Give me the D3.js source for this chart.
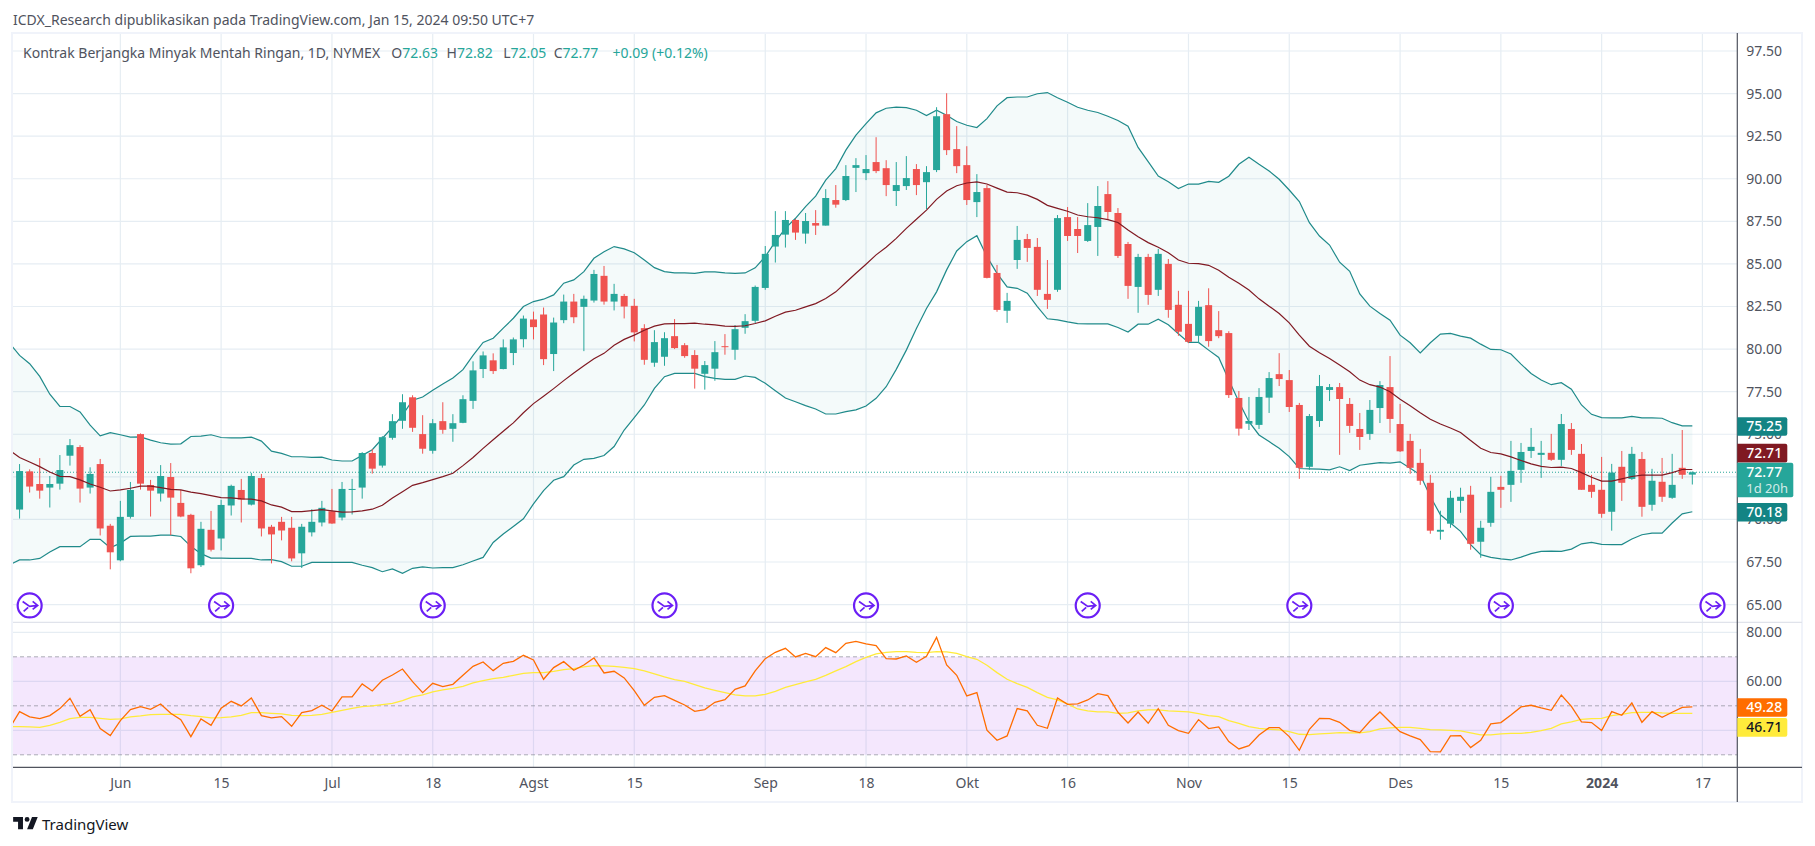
<!DOCTYPE html>
<html>
<head>
<meta charset="utf-8">
<script src="https://cdn.jsdelivr.net/npm/d3@7/dist/d3.min.js"></script>
<style>
    html, body { margin: 0; padding: 0; background: #fff; }
    svg { display: block; }
    text { font-family: "Noto Sans", sans-serif; }
</style>
</head>
<body>
<div id="chart"></div>
<script>
// daily candles, first slot sits off the left edge of the pane so only the lines use it
var opens = [null,70.58,72.82,72.08,71.87,72.10,73.74,74.25,71.87,73.25,69.63,
    67.60,70.15,75.01,72.02,71.52,72.49,70.97,70.27,67.31,69.39,
    68.88,70.82,71.73,70.87,72.43,69.57,69.86,69.51,68.01,69.24,
    69.82,70.48,70.11,71.75,71.87,73.90,73.16,74.79,75.79,77.17,
    75.01,74.03,75.77,75.32,75.67,76.96,78.83,79.34,78.83,79.77,
    80.58,81.74,82.03,79.71,81.70,82.79,82.48,82.85,84.30,82.79,
    83.12,82.54,81.23,79.20,79.55,80.76,80.23,79.65,78.55,78.85,
    80.17,79.96,81.25,81.66,83.59,86.02,86.72,87.58,86.78,87.40,
    87.25,88.75,88.75,90.64,90.33,90.98,90.62,89.28,89.57,90.57,
    89.80,90.51,93.79,91.74,90.80,88.63,89.45,84.47,82.25,85.23,
    86.46,86.00,83.24,83.48,87.75,87.05,86.35,87.17,89.10,87.99,
    86.17,83.65,85.41,83.48,85.00,82.60,81.48,80.78,82.58,81.11,
    80.94,77.13,75.62,75.55,77.15,78.53,78.18,76.72,73.09,75.78,
    77.60,77.77,76.78,75.31,75.02,76.54,77.77,75.60,74.61,73.32,
    72.15,69.28,69.75,71.09,71.45,68.69,69.80,71.91,72.03,72.91,
    74.02,73.79,73.91,73.50,75.31,73.85,72.03,71.74,70.45,73.09,
    72.38,73.55,70.86,72.21,71.27,73.03,72.63];

var highs = [null,73.25,72.94,73.60,72.55,73.78,74.72,74.36,73.06,73.55,69.74,
    71.09,72.20,75.05,72.32,73.19,73.31,71.73,70.33,69.86,70.50,
    71.15,72.04,72.38,72.73,72.67,69.68,70.15,70.15,69.74,70.60,
    71.09,71.79,72.20,72.38,73.95,74.13,74.89,76.18,77.35,77.29,
    76.12,75.89,76.88,76.18,77.29,79.28,79.86,79.75,80.57,80.68,
    81.97,82.20,82.44,81.85,83.20,83.24,83.14,84.65,84.88,83.83,
    83.24,82.95,81.46,81.11,80.99,81.76,80.35,79.94,79.30,80.47,
    80.88,81.41,82.05,83.73,86.05,88.10,88.10,87.64,87.99,88.16,
    89.39,89.63,90.80,91.21,91.39,92.44,91.09,90.98,91.33,90.86,
    90.74,94.20,95.02,93.09,91.91,90.27,89.63,84.94,83.30,87.23,
    86.76,86.52,85.23,87.87,88.34,87.75,88.57,89.57,89.86,88.28,
    86.29,85.59,85.59,85.88,85.29,83.42,83.42,82.83,83.57,82.23,
    81.05,77.54,77.19,77.71,78.65,79.76,78.77,76.84,76.19,78.48,
    77.95,78.01,77.13,76.25,77.01,78.12,79.59,76.78,75.02,74.14,
    72.62,70.51,71.68,71.86,71.97,69.92,72.50,72.56,74.61,74.49,
    75.37,74.61,75.02,76.19,75.66,74.43,72.62,73.67,73.26,74.02,
    74.26,73.96,72.97,73.61,73.85,75.25,72.82];

var lows = [null,70.05,71.58,71.22,70.70,71.75,73.16,70.99,71.52,69.06,67.07,
    67.54,70.05,71.75,70.17,71.05,69.08,70.13,66.84,67.21,68.12,
    68.18,70.23,69.82,70.82,69.00,67.42,68.77,67.54,67.15,69.00,
    69.59,69.74,69.94,70.29,71.22,72.69,73.04,74.68,75.32,75.14,
    73.86,73.86,75.03,74.56,75.65,76.49,78.30,78.54,78.81,79.06,
    80.10,80.57,79.06,78.71,81.52,81.52,79.88,82.73,82.61,82.27,
    81.80,80.45,79.08,78.96,79.02,80.00,79.49,77.68,77.62,78.14,
    79.67,79.37,80.90,81.52,83.48,85.08,85.96,86.41,86.19,86.70,
    87.25,88.30,88.69,89.22,89.92,90.33,88.98,88.40,89.34,89.04,
    88.22,90.39,91.39,90.33,88.46,87.75,84.15,82.19,81.54,84.71,
    85.12,83.12,82.36,83.36,86.35,85.64,86.29,85.47,87.58,85.35,
    82.95,82.13,82.60,83.12,81.84,80.78,80.35,80.35,80.14,80.64,
    77.13,74.92,75.25,75.31,76.25,77.83,76.31,72.38,72.91,75.43,
    76.95,73.79,75.08,74.08,74.67,75.66,75.08,73.96,72.68,72.03,
    69.16,68.81,69.51,70.39,68.22,67.75,69.57,70.68,71.03,72.15,
    73.61,72.44,73.44,73.14,73.79,71.74,71.27,70.10,69.34,71.09,
    72.32,70.16,70.51,71.03,71.21,72.38,72.05];

var closes = [null,72.84,71.93,71.69,72.08,72.90,74.36,71.81,72.67,69.47,68.07,
    70.15,71.73,72.10,71.69,72.55,71.28,70.17,67.13,69.45,68.22,
    70.85,71.97,71.17,72.55,69.47,69.12,69.35,67.71,69.57,69.86,
    70.68,69.76,71.79,71.79,73.90,72.98,74.83,75.77,76.88,75.38,
    74.15,75.65,75.26,75.65,77.06,78.75,79.63,78.71,80.10,80.57,
    81.79,81.29,79.41,81.56,82.79,81.87,82.95,84.41,82.79,83.24,
    82.50,80.98,79.37,80.41,80.64,80.06,79.59,78.85,79.06,79.82,
    80.14,81.17,81.64,83.65,85.59,86.70,87.58,86.84,87.52,87.25,
    88.87,88.48,90.16,90.80,90.57,90.45,89.63,89.63,90.04,89.63,
    90.39,93.67,91.68,90.74,88.75,89.22,84.18,82.30,82.83,86.41,
    85.94,83.48,82.89,87.69,86.64,86.64,87.28,88.40,88.05,85.47,
    83.71,85.41,83.18,85.59,82.30,81.02,80.43,82.48,80.47,80.76,
    77.30,75.33,75.78,77.19,78.30,78.24,76.60,73.03,76.07,77.83,
    77.77,77.07,75.49,74.84,76.43,77.89,75.90,74.00,73.03,72.27,
    69.34,69.39,71.27,71.33,68.57,69.51,71.62,71.74,72.85,73.96,
    74.26,73.91,73.50,75.60,74.08,71.74,71.62,70.33,72.75,72.15,
    73.85,70.74,72.27,71.33,72.03,72.62,72.77];

// bollinger bands
var bandUpper = [80.35,79.63,79.14,78.40,77.35,76.63,76.63,76.31,75.53,74.91,75.09,
    74.97,74.83,74.85,74.66,74.50,74.42,74.44,74.87,74.89,74.97,
    74.81,74.79,74.79,74.83,74.60,74.01,73.88,73.68,73.68,73.64,
    73.66,73.49,73.43,73.43,73.76,74.09,74.75,75.42,76.12,77.00,
    77.19,77.58,77.95,78.30,78.79,79.63,80.39,80.64,81.23,81.81,
    82.50,82.79,82.93,83.18,83.87,84.06,84.55,85.33,85.72,86.02,
    85.88,85.66,85.23,84.78,84.55,84.47,84.47,84.45,84.53,84.53,
    84.47,84.45,84.47,84.77,85.43,86.31,87.09,87.68,88.36,88.98,
    89.92,90.60,91.68,92.56,93.24,93.87,94.14,94.20,94.18,94.02,
    93.71,94.02,93.73,93.36,93.14,93.01,93.53,94.28,94.76,94.80,
    94.80,94.99,95.06,94.76,94.49,94.20,94.02,93.89,93.67,93.42,
    93.09,91.84,91.00,90.16,89.82,89.43,89.69,89.69,89.85,89.79,
    90.15,90.85,91.26,90.85,90.46,89.97,89.34,88.66,87.42,86.64,
    86.11,85.10,84.57,83.24,82.52,82.09,81.70,80.82,80.37,79.78,
    80.37,80.88,80.92,80.76,80.64,80.29,79.98,79.96,79.71,79.12,
    78.57,78.18,77.91,78.03,77.64,76.72,76.17,75.98,75.96,75.96,
    76.05,75.96,75.96,75.94,75.68,75.49,75.49];

var bandBasis = [74.07,73.64,73.37,73.10,72.78,72.53,72.51,72.32,72.08,71.89,71.67,
    71.73,71.83,71.95,71.95,71.87,71.77,71.73,71.60,71.52,71.40,
    71.28,71.26,71.21,71.19,71.09,70.85,70.72,70.46,70.46,70.52,
    70.58,70.50,70.43,70.44,70.50,70.60,70.83,71.26,71.63,72.00,
    72.16,72.34,72.51,72.71,73.16,73.64,74.17,74.68,75.18,75.67,
    76.26,76.80,77.23,77.68,78.15,78.60,79.02,79.43,79.75,80.23,
    80.57,80.82,81.11,81.35,81.48,81.50,81.50,81.52,81.46,81.42,
    81.35,81.33,81.37,81.50,81.66,81.93,82.17,82.28,82.48,82.67,
    82.97,83.36,83.91,84.45,84.98,85.53,85.98,86.50,87.09,87.62,
    88.16,88.79,89.28,89.59,89.75,89.82,89.69,89.45,89.22,89.18,
    89.04,88.79,88.44,88.26,88.09,87.87,87.77,87.71,87.60,87.43,
    86.99,86.60,86.25,85.98,85.66,85.23,85.04,85.02,84.92,84.63,
    84.22,83.87,83.47,82.95,82.52,82.09,81.54,80.82,80.17,79.78,
    79.45,79.06,78.67,78.18,77.91,77.77,77.50,77.05,76.68,76.27,
    75.88,75.60,75.37,75.10,74.63,74.18,73.93,73.85,73.67,73.46,
    73.26,73.11,73.05,73.07,72.99,72.75,72.48,72.25,72.25,72.38,
    72.52,72.60,72.60,72.60,72.75,72.93,72.93];

var bandLower = [67.34,67.62,67.62,67.71,68.09,68.40,68.40,68.40,68.83,68.83,68.34,
    68.61,69.00,69.02,69.02,69.08,69.08,69.00,68.42,67.99,67.73,
    67.73,67.71,67.71,67.71,67.62,67.64,67.52,67.25,67.25,67.48,
    67.48,67.48,67.48,67.48,67.31,67.17,66.93,67.09,66.84,67.13,
    67.21,67.15,67.17,67.17,67.34,67.56,67.77,68.65,69.14,69.59,
    70.04,70.91,71.69,72.30,72.51,73.19,73.53,73.58,73.75,74.28,
    75.25,75.98,76.72,77.69,78.38,78.57,78.57,78.57,78.38,78.28,
    78.22,78.22,78.42,78.34,77.99,77.56,77.13,76.91,76.68,76.48,
    76.19,76.19,76.33,76.43,76.66,77.11,77.79,78.81,79.94,81.21,
    82.38,83.36,84.65,85.76,86.31,86.66,85.43,84.45,83.65,83.57,
    83.28,82.50,81.78,81.72,81.60,81.50,81.48,81.48,81.48,81.27,
    81.00,81.46,81.46,81.76,81.43,80.90,80.39,80.39,79.94,79.51,
    78.18,76.91,75.74,74.96,74.57,74.18,73.69,72.99,72.97,72.95,
    72.91,73.09,72.87,73.18,73.26,73.34,73.30,73.38,73.01,72.62,
    71.35,70.27,69.79,69.30,68.52,67.93,67.77,67.68,67.62,67.79,
    67.99,68.12,68.14,68.12,68.26,68.57,68.65,68.54,68.52,68.52,
    68.85,69.10,69.20,69.20,69.79,70.33,70.45];

// rsi pane
var rsiValues = [40.82,47.62,45.45,44.77,45.99,48.85,53.06,45.72,48.44,40.69,37.83,
    43.95,48.44,49.66,48.58,50.75,46.94,44.36,37.42,44.63,42.05,
    48.98,51.84,49.94,53.20,45.99,45.04,45.58,41.64,47.22,48.03,
    50.21,47.90,53.61,53.61,58.91,56.06,60.41,62.58,65.03,59.86,
    55.38,59.18,57.82,58.78,62.45,66.12,67.89,64.35,67.34,68.16,
    70.61,68.70,60.82,65.58,68.02,64.49,66.66,69.52,63.40,64.08,
    61.36,56.19,50.21,53.47,54.15,52.25,50.34,47.76,48.44,51.43,
    52.52,56.74,58.10,64.22,69.25,71.83,73.46,69.93,71.42,70.06,
    73.74,71.70,75.50,76.32,75.23,74.55,69.25,69.11,70.34,67.75,
    70.20,77.95,66.66,62.45,54.02,55.38,40.01,35.93,37.70,48.85,
    47.90,42.05,40.82,53.20,50.62,50.75,52.38,54.97,54.15,47.35,
    43.00,47.49,42.86,48.85,42.05,39.87,38.78,44.36,40.69,41.37,
    35.38,32.39,33.75,38.10,41.10,41.10,37.42,31.85,40.42,44.90,
    44.77,43.27,40.01,39.06,43.68,47.49,43.41,39.46,37.70,36.20,
    31.30,31.17,37.70,37.83,32.94,35.93,42.59,43.14,46.26,49.53,
    50.21,49.12,48.17,54.42,49.80,43.41,43.14,39.87,47.62,46.13,
    51.16,43.27,47.62,45.31,47.35,49.39,49.53];

var rsiMa = [41.50,41.50,41.37,41.23,42.05,43.27,44.77,45.31,45.31,44.90,44.50,
    44.63,45.45,45.86,46.40,46.54,46.54,46.54,45.99,45.58,45.04,
    45.18,45.45,46.13,47.22,47.22,46.94,46.67,46.13,45.99,46.13,
    46.54,47.35,48.17,48.98,49.66,49.94,50.48,51.02,52.11,53.61,
    54.42,55.65,56.46,57.14,57.96,59.32,60.27,61.09,61.63,62.45,
    63.26,63.54,63.54,64.08,64.76,65.17,65.85,66.39,66.26,66.12,
    65.71,65.17,64.22,62.99,61.77,60.68,60.00,58.64,57.28,56.33,
    55.38,54.42,54.02,54.02,54.70,55.92,57.55,58.64,59.73,60.82,
    62.45,64.22,65.98,68.02,69.79,71.15,71.83,72.10,72.10,71.83,
    71.70,72.10,71.97,71.42,70.06,68.98,66.53,63.54,60.82,59.05,
    57.55,55.38,53.47,52.38,50.75,48.71,47.90,47.49,47.49,46.94,
    47.08,47.90,48.30,48.30,47.90,47.76,47.49,46.81,45.99,45.58,
    43.95,42.86,41.50,40.82,40.42,40.14,39.46,38.38,38.24,38.51,
    38.78,39.06,38.92,38.92,39.46,40.55,40.96,41.23,41.23,40.82,
    40.28,40.14,40.01,39.74,38.92,38.10,38.10,38.51,38.78,38.78,
    39.19,39.87,40.82,42.59,43.41,44.50,44.77,44.90,45.99,46.54,
    47.22,47.35,47.35,47.08,46.94,46.94,46.94];

// axis ticks, 72.50 and 40.00 have a grid line but their labels sit under the value boxes
var priceTicks = [65,67.5,70,72.5,75,77.5,80,82.5,85,87.5,90,92.5,95,97.5];
var priceTickLabels = [65,67.5,70,75,77.5,80,82.5,85,87.5,90,92.5,95,97.5];
var rsiTicks = [40,60,80];
var rsiTickLabels = [60,80];
var rsiGuides = [30,50,70];
var timeBars = [11,21,32,42,52,62,75,85,95,105,117,127,138,148,158,168];
var timeLabels = ['Jun','15','Jul','18','Agst','15','Sep','18','Okt','16','Nov','15','Des','15','2024','17'];

// dividend style markers along the bottom of the price pane
var eventBars = [2,21,42,65,85,107,128,148,169];
var eventLevel = 64.95;

var lastPrice = 72.77;

// label text, then the level each label got pushed to so they don't collide
var priceLabels = [
    { text: '75.25', level: 75.46, fill: '#138484', color: '#fff' },
    { text: '72.71', level: 73.89, fill: '#801922', color: '#fff' },
    { text: '70.18', level: 70.42, fill: '#138484', color: '#fff' }
];
var rsiLabels = [
    { text: '49.28', level: 49.30, fill: '#ff6d00', color: '#fff' },
    { text: '46.71', level: 41.20, fill: '#ffeb3b', color: '#131722' }
];

// text, colour, gap before it
var legendParts = [
    ['Kontrak Berjangka Minyak Mentah Ringan, 1D, NYMEX', '#50535e', 0],
    ['O', '#50535e', 11.5], ['72.63', '#26a69a', 0],
    ['H', '#50535e', 8.5], ['72.82', '#26a69a', 0],
    ['L', '#50535e', 10.4], ['72.05', '#26a69a', 0],
    ['C', '#50535e', 7.4], ['72.77', '#26a69a', 0],
    ['+0.09 (+0.12%)', '#26a69a', 14.2]
];

var UP = '#26a69a', DOWN = '#ef5350', GRID = '#e6edf3', AXIS = '#50535e';

// "top" is taken by window.top, so plotTop
var left = 13, right = 1737.3, plotTop = 33, paneBottom = 622.3, bottom = 767.3, frameRight = 1802, frameBottom = 802;

var svg = d3.select('#chart').append('svg').attr('width', 1815).attr('height', 846);

var x = d3.scaleLinear().domain([0, 168]).range([9.5, 1702.4]);
var yPrice = d3.scaleLinear().domain([65, 97.5]).range([604.6, 51]);
var yRsi = d3.scaleLinear().domain([40, 80]).range([730.3, 632.3]);

var defs = svg.append('defs');
defs.append('clipPath').attr('id', 'priceClip').append('rect')
    .attr('x', left).attr('y', plotTop).attr('width', right - left).attr('height', paneBottom - plotTop);
defs.append('clipPath').attr('id', 'rsiClip').append('rect')
    .attr('x', left).attr('y', paneBottom).attr('width', right - left).attr('height', bottom - paneBottom);

// header line
svg.append('text').attr('x', 13).attr('y', 25).attr('font-size', 14).attr('fill', '#50535e')
    .text('ICDX_Research dipublikasikan pada TradingView.com, Jan 15, 2024 09:50 UTC+7');

// grid
var grid = svg.append('g').attr('stroke', GRID).attr('stroke-width', 1.2);
grid.selectAll('.v').data(timeBars).enter().append('line').attr('class', 'v')
    .attr('x1', function (d) { return x(d); }).attr('x2', function (d) { return x(d); })
    .attr('y1', plotTop).attr('y2', bottom);
grid.selectAll('.p').data(priceTicks).enter().append('line').attr('class', 'p')
    .attr('x1', left).attr('x2', right)
    .attr('y1', function (d) { return yPrice(d); }).attr('y2', function (d) { return yPrice(d); });
grid.selectAll('.r').data(rsiTicks).enter().append('line').attr('class', 'r')
    .attr('x1', left).attr('x2', right)
    .attr('y1', function (d) { return yRsi(d); }).attr('y2', function (d) { return yRsi(d); });

// price pane
var pricePane = svg.append('g').attr('clip-path', 'url(#priceClip)');

var bandArea = d3.area()
    .x(function (d, i) { return x(i); })
    .y0(function (d, i) { return yPrice(bandLower[i]); })
    .y1(function (d) { return yPrice(d); });
pricePane.append('path').attr('d', bandArea(bandUpper)).attr('fill', '#26a69a').attr('fill-opacity', 0.05);

pricePane.append('line').attr('x1', left).attr('x2', right)
    .attr('y1', yPrice(lastPrice)).attr('y2', yPrice(lastPrice))
    .attr('stroke', UP).attr('stroke-width', 1).attr('stroke-dasharray', '1 2');

var priceLine = d3.line()
    .x(function (d, i) { return x(i); })
    .y(function (d) { return yPrice(d); });

[[bandUpper, '#138484'], [bandLower, '#138484']].forEach(function (s) {
    pricePane.append('path').attr('d', priceLine(s[0])).attr('fill', 'none')
        .attr('stroke', s[1]).attr('stroke-width', 1.2).attr('stroke-opacity', 0.95);
});

var bars = d3.range(opens.length).filter(function (i) { return opens[i] !== null; });
var candles = pricePane.selectAll('.candle').data(bars).enter().append('g').attr('class', 'candle');
candles.append('line')
    .attr('x1', function (i) { return x(i); }).attr('x2', function (i) { return x(i); })
    .attr('y1', function (i) { return yPrice(highs[i]); }).attr('y2', function (i) { return yPrice(lows[i]); })
    .attr('stroke', function (i) { return closes[i] >= opens[i] ? UP : DOWN; }).attr('stroke-width', 1);
candles.append('rect')
    .attr('x', function (i) { return x(i) - 3.5; }).attr('width', 7)
    .attr('y', function (i) { return yPrice(Math.max(opens[i], closes[i])); })
    .attr('height', function (i) { return Math.max(1, Math.abs(yPrice(opens[i]) - yPrice(closes[i]))); })
    .attr('fill', function (i) { return closes[i] >= opens[i] ? UP : DOWN; });

// basis goes over the candles
pricePane.append('path').attr('d', priceLine(bandBasis)).attr('fill', 'none')
    .attr('stroke', '#801922').attr('stroke-width', 1.2);

// markers
var marks = svg.append('g').selectAll('g').data(eventBars).enter().append('g')
    .attr('transform', function (d) { return 'translate(' + x(d) + ',' + yPrice(eventLevel) + ')'; })
    .attr('fill', 'none').attr('stroke', '#6b1ff5').attr('stroke-width', 1.7);
marks.append('circle').attr('r', 12).attr('fill', '#fff').attr('stroke-width', 2.2);
marks.append('path').attr('d', 'M-7,-4 L0,1 L8,0 M3,-4 L8,0 L3,4 M-6,6 L-1.5,2');

// legend
var legend = svg.append('text').attr('x', 23).attr('y', 58).attr('font-size', 14);
legendParts.forEach(function (p) {
    legend.append('tspan').attr('fill', p[1]).attr('dx', p[2]).text(p[0]);
});

// rsi pane
var rsiPane = svg.append('g').attr('clip-path', 'url(#rsiClip)');
rsiPane.append('rect').attr('x', left).attr('width', right - left)
    .attr('y', yRsi(70)).attr('height', yRsi(30) - yRsi(70))
    .attr('fill', '#9c27f0').attr('fill-opacity', 0.11);
rsiPane.selectAll('.guide').data(rsiGuides).enter().append('line').attr('class', 'guide')
    .attr('x1', left).attr('x2', right)
    .attr('y1', function (d) { return yRsi(d); }).attr('y2', function (d) { return yRsi(d); })
    .attr('stroke', '#787b86').attr('stroke-opacity', 0.6).attr('stroke-dasharray', '4 3');

var rsiLine = d3.line()
    .x(function (d, i) { return x(i); })
    .y(function (d) { return yRsi(d); });
rsiPane.append('path').attr('d', rsiLine(rsiMa)).attr('fill', 'none')
    .attr('stroke', '#ffeb3b').attr('stroke-width', 1.3);
rsiPane.append('path').attr('d', rsiLine(rsiValues)).attr('fill', 'none')
    .attr('stroke', '#ff6d00').attr('stroke-width', 1.3);

// frame and axis rules
svg.append('rect').attr('x', 12).attr('y', plotTop).attr('width', frameRight - 12).attr('height', frameBottom - plotTop)
    .attr('fill', 'none').attr('stroke', '#f0f3fa').attr('stroke-width', 2);
svg.append('line').attr('x1', left).attr('x2', frameRight).attr('y1', paneBottom).attr('y2', paneBottom)
    .attr('stroke', '#e0e3eb').attr('stroke-width', 1.2);
svg.append('line').attr('x1', left).attr('x2', frameRight).attr('y1', bottom).attr('y2', bottom)
    .attr('stroke', AXIS).attr('stroke-width', 1.2);
svg.append('line').attr('x1', right).attr('x2', right).attr('y1', plotTop).attr('y2', frameBottom)
    .attr('stroke', AXIS).attr('stroke-width', 1.2);

// axes
function styleAxis(g) {
    g.select('.domain').remove();
    g.selectAll('.tick line').remove();
    g.selectAll('text').attr('fill', AXIS).attr('font-size', 14)
        .style('font-family', '"Noto Sans", sans-serif');
}

svg.append('g').attr('transform', 'translate(' + (right + 9) + ',0)')
    .call(d3.axisRight(yPrice).tickValues(priceTickLabels).tickSize(0).tickPadding(0).tickFormat(d3.format('.2f')))
    .call(styleAxis);
svg.append('g').attr('transform', 'translate(' + (right + 9) + ',0)')
    .call(d3.axisRight(yRsi).tickValues(rsiTickLabels).tickSize(0).tickPadding(0).tickFormat(d3.format('.2f')))
    .call(styleAxis);
svg.append('g').attr('transform', 'translate(0,' + (bottom + 10.5) + ')')
    .call(d3.axisBottom(x).tickValues(timeBars).tickSize(0).tickPadding(0)
        .tickFormat(function (d, i) { return timeLabels[i]; }))
    .call(styleAxis)
    .selectAll('text').attr('font-weight', function (d, i) { return timeLabels[i] === '2024' ? 700 : 400; });

// last value labels on the price scale
function drawLabel(y, d) {
    var g = svg.append('g').attr('transform', 'translate(' + right + ',' + y + ')');
    g.append('path').attr('d', 'M0,-9.3 H48 a2,2 0 0 1 2,2 V7.3 a2,2 0 0 1 -2,2 H0 Z').attr('fill', d.fill);
    g.append('text').attr('x', 9).attr('y', 0).attr('dy', '0.35em').attr('font-size', 14)
        .attr('font-weight', 500).attr('fill', d.color).text(d.text);
}
priceLabels.forEach(function (d) { drawLabel(yPrice(d.level), d); });
rsiLabels.forEach(function (d) { drawLabel(yRsi(d.level), d); });

var priceBox = svg.append('g').attr('transform', 'translate(' + right + ',' + yPrice(lastPrice) + ')');
priceBox.append('path').attr('d', 'M0,-9.5 H54 a2,2 0 0 1 2,2 V23 a2,2 0 0 1 -2,2 H0 Z').attr('fill', UP);
priceBox.append('text').attr('x', 9).attr('dy', '0.35em').attr('font-size', 14).attr('font-weight', 500)
    .attr('fill', '#fff').text('72.77');
priceBox.append('text').attr('x', 9).attr('y', 16).attr('dy', '0.35em').attr('font-size', 13)
    .attr('fill', '#fff').attr('fill-opacity', 0.8).text('1d 20h');

// footer logo
var logo = svg.append('g').attr('transform', 'translate(11.5,812) scale(0.82)');
logo.append('path').attr('fill', '#131722')
    .attr('d', 'M14 6H2v6h6v9h6V6Zm12 15h-7l6-15h7l-6 15Zm-7-9a3 3 0 1 0 0-6 3 3 0 0 0 0 6Z');
svg.append('text').attr('x', 42).attr('y', 830).attr('font-size', 15).attr('fill', '#131722').text('TradingView');
</script>
</body>
</html>
